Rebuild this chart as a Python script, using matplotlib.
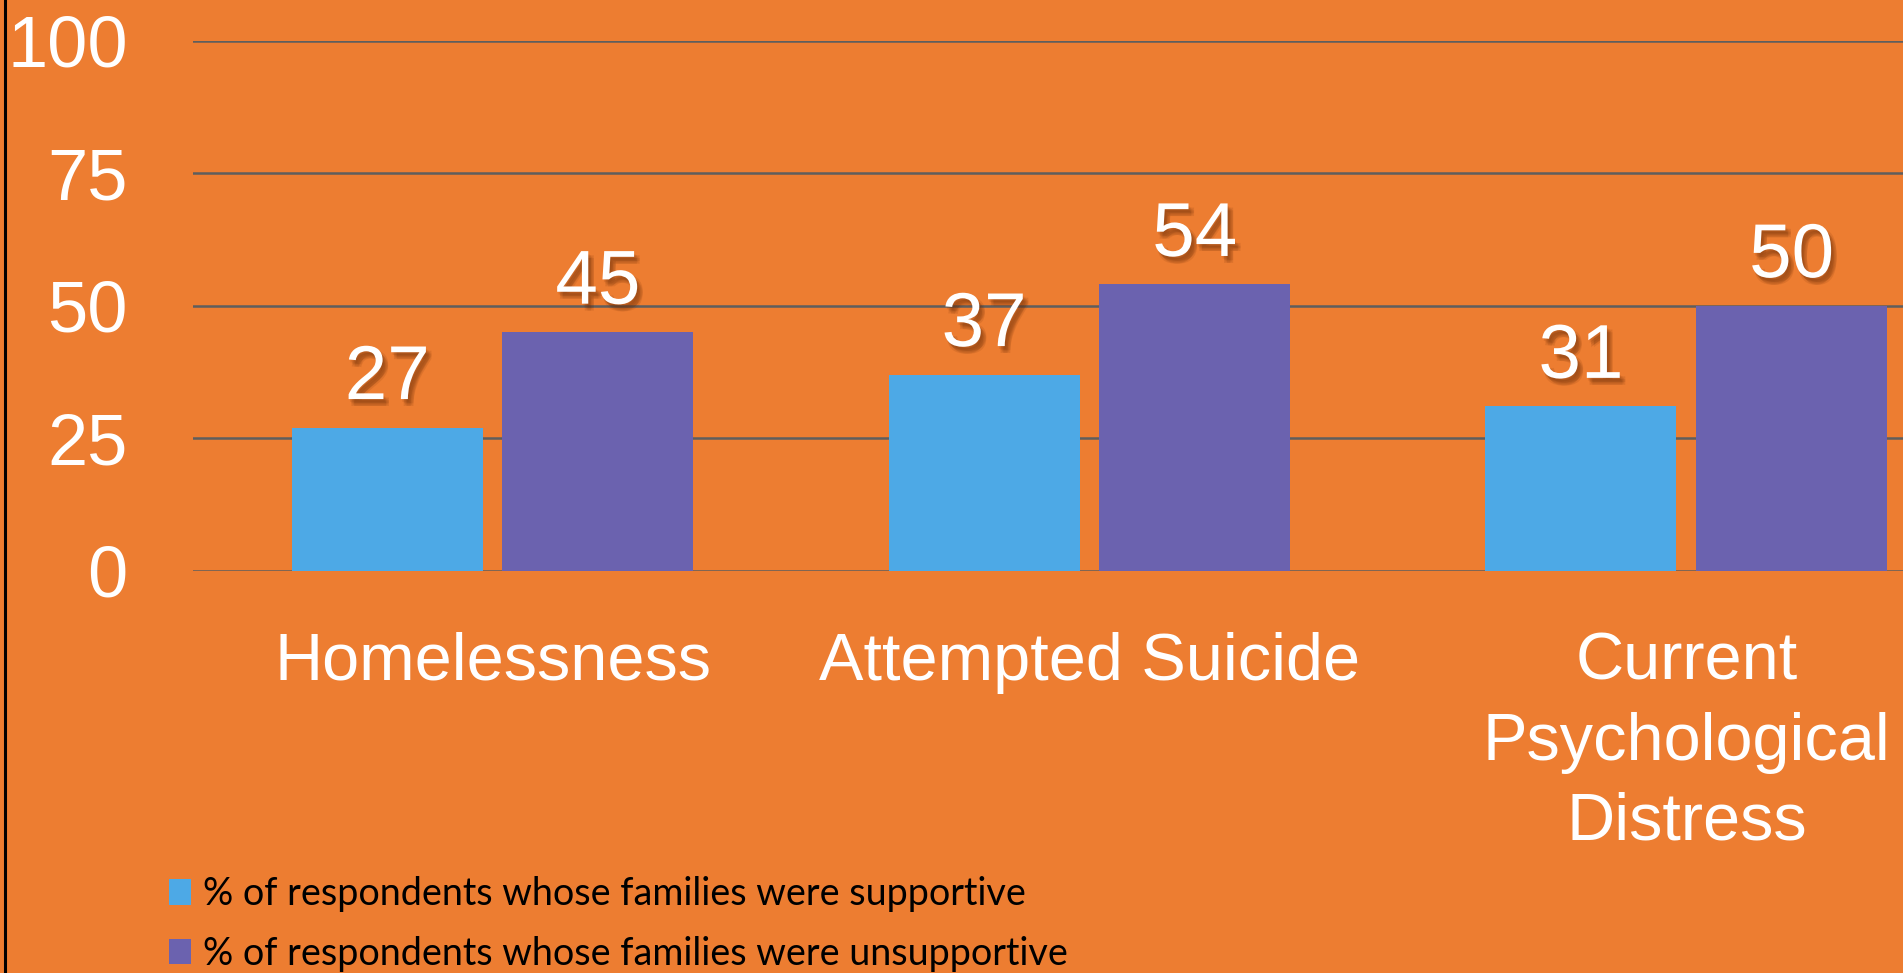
import matplotlib
matplotlib.use("Agg")
import matplotlib.pyplot as plt
import matplotlib.patheffects as pe
from matplotlib.patches import Patch
import numpy as np

categories = ["Homelessness", "Attempted Suicide", "Current\nPsychological\nDistress"]
supportive = [27, 37, 31]
unsupportive = [45, 54, 50]
series_names = [
    "% of respondents whose families were supportive",
    "% of respondents whose families were unsupportive",
]
y_ticks = [0, 25, 50, 75, 100]

ORANGE = "#ED7D31"
BLUE = "#4DA9E6"
PURPLE = "#6B62AF"
GRID = "#5E5E5E"

plt.rcParams["font.family"] = ["Liberation Sans", "DejaVu Sans"]

fig = plt.figure(figsize=(19.03, 9.73), dpi=100, facecolor=ORANGE)
ax = fig.add_axes([193 / 1903, 0.4135, 1 - 193 / 1903, 0.9582 - 0.4135])
ax.set_facecolor(ORANGE)

x = np.arange(len(categories))
width = 0.32
offset = 0.1765
b1 = ax.bar(x - offset, supportive, width, color=BLUE, zorder=3)
b2 = ax.bar(x + offset, unsupportive, width, color=PURPLE, zorder=3)

# soft drop shadow: a few faint offset copies
shadow = [pe.SimplePatchShadow(offset=(dx, dy), shadow_rgbFace="#6e2e08", alpha=0.13)
          for dx, dy in [(1, -2), (2, -3), (3, -4), (4, -5), (2, -5), (4, -3)]]
shadow.append(pe.Normal())
for bars in (b1, b2):
    labels = ax.bar_label(bars, padding=9, color="white", fontsize=55)
    for t in labels:
        t.set_path_effects(shadow)

ax.set_ylim(0, 100)
ax.set_xlim(-0.502, 2.363)
ax.set_yticks(y_ticks)
ax.set_xticks(x)
ax.set_xticklabels(categories, linespacing=1.37)
ax.tick_params(axis="y", length=0, pad=47, labelsize=52, labelcolor="white")
ax.tick_params(axis="x", length=0, pad=44, labelsize=48, labelcolor="white")
ax.yaxis.grid(True, color=GRID, linewidth=1.8, zorder=0)
ax.set_axisbelow(True)
for spine in ax.spines.values():
    spine.set_visible(False)

handles = [Patch(facecolor=BLUE), Patch(facecolor=PURPLE)]
fig.legend(
    handles, series_names,
    loc="upper left", bbox_to_anchor=(169 / 1903, 1 - 876 / 973),
    frameon=False, borderpad=0, borderaxespad=0,
    handlelength=0.59, handleheight=0.67, handletextpad=0.3,
    labelspacing=0.63,
    prop={"family": ["Lato", "DejaVu Sans"], "size": 27.2},
    labelcolor="black",
)

# left border strip of the original slide
fig.add_artist(plt.Line2D([4.5 / 1903, 4.5 / 1903], [0, 1], color="black", linewidth=2.2,
                          transform=fig.transFigure))

fig.savefig("out.png", dpi=100, facecolor=ORANGE)
